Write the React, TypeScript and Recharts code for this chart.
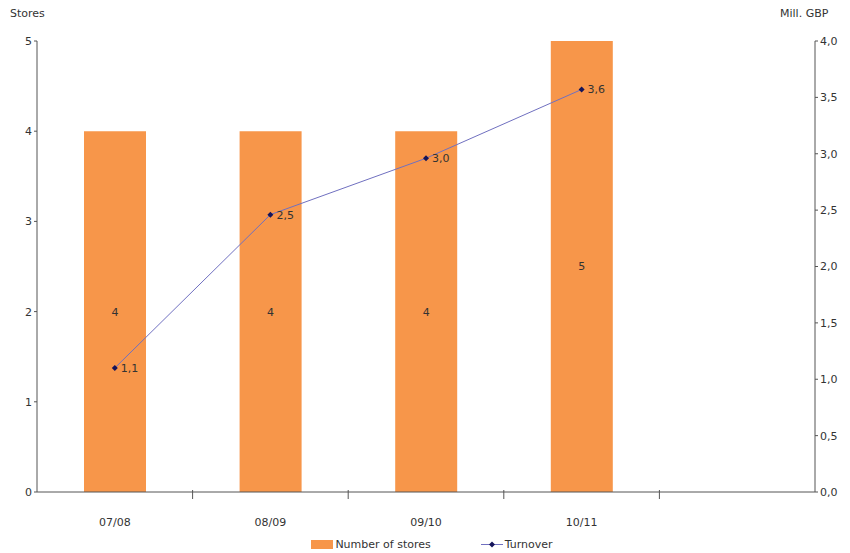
import { Bar, ComposedChart, LabelList, Line, XAxis, YAxis } from "recharts";

const periods = ["07/08", "08/09", "09/10", "10/11", ""];
const stores = [4, 4, 4, 5, null];
const turnover = [1.1, 2.46, 2.96, 3.57, null];
const storeTicks = [0, 1, 2, 3, 4, 5];
const gbpTicks = [0, 0.5, 1, 1.5, 2, 2.5, 3, 3.5, 4];

const rows = periods.map((p, i) => ({ period: p, stores: stores[i], turnover: turnover[i] }));

const FONT = "Verdana, 'DejaVu Sans', sans-serif";
const TEXT = "#333";
const AXIS = "#555";
const ORANGE = "#f7964a";
const comma = (v: number) => v.toFixed(1).replace(".", ",");

// category ticks: label at the centre, tick mark on the left boundary of the slot
function PeriodTick(props: any) {
  const { x, y, payload, index } = props;
  const slot = 778 / periods.length;
  return (
    <g>
      {index > 0 && (
        <line x1={x - slot / 2} x2={x - slot / 2} y1={y - 10} y2={y - 1} stroke={AXIS} />
      )}
      <text x={x} y={y + 26} textAnchor="middle" fill={TEXT} fontSize={11} fontFamily={FONT}>
        {payload.value}
      </text>
    </g>
  );
}

function Diamond(props: any) {
  const { cx, cy } = props;
  if (cx == null || cy == null) return null;
  return <path d={`M${cx},${cy - 3}L${cx + 3},${cy}L${cx},${cy + 3}L${cx - 3},${cy}Z`} fill="#14145a" />;
}

export default function App() {
  return (
    <div style={{ position: "relative", width: 850, height: 553, fontFamily: FONT, color: TEXT }}>
      <style>{"body{margin:0}"}</style>
      <div style={{ position: "absolute", left: 10, top: 7, fontSize: 11 }}>Stores</div>
      <div style={{ position: "absolute", left: 780, top: 7, fontSize: 11 }}>Mill. GBP</div>
      <ComposedChart
        width={850}
        height={553}
        data={rows}
        margin={{ top: 41, right: 5, bottom: 31, left: 7 }}
      >
        <XAxis
          dataKey="period"
          xAxisId={0}
          tick={<PeriodTick />}
          tickLine={false}
          axisLine={{ stroke: AXIS }}
          interval={0}
          height={30}
        />
        <YAxis
          yAxisId="left"
          domain={[0, 5]}
          ticks={storeTicks}
          width={30}
          tick={{ fill: TEXT, fontSize: 11, fontFamily: FONT }}
          tickSize={3}
          tickLine={{ stroke: AXIS }}
          axisLine={{ stroke: AXIS }}
        />
        <YAxis
          yAxisId="right"
          orientation="right"
          domain={[0, 4]}
          ticks={gbpTicks}
          tickFormatter={comma}
          width={30}
          tick={{ fill: TEXT, fontSize: 11, fontFamily: FONT }}
          tickSize={3}
          tickLine={{ stroke: AXIS }}
          axisLine={{ stroke: AXIS }}
        />
        <Bar yAxisId="left" dataKey="stores" fill={ORANGE} barSize={62} isAnimationActive={false}>
          <LabelList dataKey="stores" position="center" fill={TEXT} fontSize={11} fontFamily={FONT} />
        </Bar>
        <Line
          yAxisId="right"
          dataKey="turnover"
          stroke="#7070c0"
          strokeWidth={1}
          dot={<Diamond />}
          activeDot={false}
          connectNulls={false}
          isAnimationActive={false}
        >
          <LabelList
            dataKey="turnover"
            position="right"
            offset={6}
            formatter={(v: any) => (v == null ? "" : comma(Number(v)))}
            fill={TEXT}
            fontSize={11}
            fontFamily={FONT}
          />
        </Line>
      </ComposedChart>
      <div
        style={{
          position: "absolute",
          top: 538,
          left: 0,
          width: 850,
          display: "flex",
          justifyContent: "center",
          gap: 50,
          fontSize: 11,
          paddingLeft: 14,
          boxSizing: "border-box",
        }}
      >
        <span style={{ display: "flex", alignItems: "center", gap: 2 }}>
          <span style={{ display: "inline-block", width: 22, height: 9, background: ORANGE }} />
          Number of stores
        </span>
        <span style={{ display: "flex", alignItems: "center", gap: 2 }}>
          <svg width={22} height={9}>
            <line x1={0} x2={22} y1={4.5} y2={4.5} stroke="#7070c0" />
            <path d="M11,1.5L14,4.5L11,7.5L8,4.5Z" fill="#14145a" />
          </svg>
          Turnover
        </span>
      </div>
    </div>
  );
}
